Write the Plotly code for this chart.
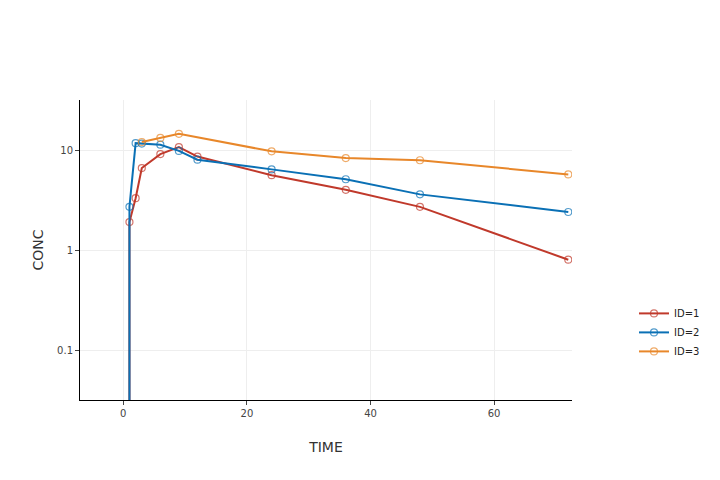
import plotly.graph_objects as go

time_id1 = [1, 1, 2, 3, 6, 9, 12, 24, 36, 48, 72]
conc_id1 = [0, 1.9, 3.3, 6.6, 9.1, 10.7, 8.6, 5.6, 4.0, 2.7, 0.8]

time_id2 = [1, 1, 2, 3, 6, 9, 12, 24, 36, 48, 72]
conc_id2 = [0, 2.7, 11.7, 11.6, 11.3, 9.8, 8.0, 6.4, 5.1, 3.6, 2.4]

time_id3 = [3, 6, 9, 24, 36, 48, 72]
conc_id3 = [12.0, 13.2, 14.5, 9.7, 8.3, 7.9, 5.7]

series = [
    ("ID=1", time_id1, conc_id1, "#c0392b"),
    ("ID=2", time_id2, conc_id2, "#0a70b5"),
    ("ID=3", time_id3, conc_id3, "#e8872a"),
]

fig = go.Figure()
for name, t, c, col in series:
    fig.add_trace(go.Scatter(
        x=t, y=c, name=name, mode="lines+markers",
        line=dict(color=col, width=2),
        marker=dict(symbol="circle-open", size=7, color=col, opacity=0.7,
                    line=dict(width=1.2)),
    ))

fig.update_layout(
    width=712, height=472,
    paper_bgcolor="white", plot_bgcolor="white",
    margin=dict(l=72, r=148, t=92, b=80),
    font=dict(family="DejaVu Sans, Verdana, sans-serif", color="#444"),
    legend=dict(x=1.126, y=0.337, xanchor="left", yanchor="top",
                font=dict(size=10, color="#222"), bgcolor="rgba(0,0,0,0)"),
    xaxis=dict(title=dict(text="TIME", font=dict(size=14, color="#333"),
                          standoff=24),
               range=[-7, 72.6], dtick=20, showgrid=True, gridcolor="#eeeeee",
               zeroline=False, showline=True, linecolor="black", linewidth=1,
               ticks="outside", ticklen=4, tickcolor="#444",
               tickfont=dict(size=10)),
    yaxis=dict(title=dict(text="CONC", font=dict(size=14, color="#333"),
                          standoff=10),
               type="log", range=[-1.5, 1.5], dtick=1, showgrid=True,
               gridcolor="#eeeeee", zeroline=False, showline=True,
               linecolor="black", linewidth=1, ticks="outside", ticklen=4,
               tickcolor="#444", tickfont=dict(size=10)),
)

fig.write_html("out.html")
